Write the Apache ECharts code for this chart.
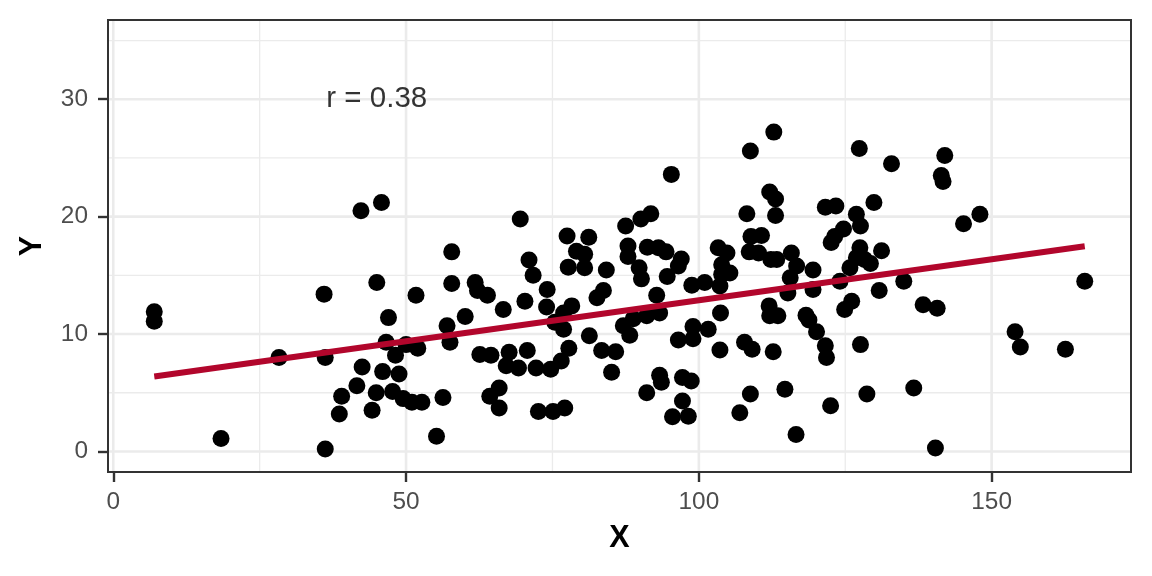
<!DOCTYPE html>
<html><head><meta charset="utf-8">
<script src="https://cdn.jsdelivr.net/npm/echarts@6/dist/echarts.min.js"></script>
<style>html,body{margin:0;padding:0;background:#fff}#c{width:1152px;height:576px}</style>
</head><body><div id="c"></div>
<script>
// ---- data ----
const xValues = [
  7.0, 7.0, 18.4, 28.3, 36.0, 36.2, 36.2, 42.3, 45.8, 45.0, 51.7, 47.0, 46.6, 50.0, 52.0, 48.2, 42.5, 46.0, 48.8, 41.6,
  39.0, 44.9, 47.7, 49.5, 51.0, 52.7, 56.3, 38.6, 44.2, 55.2,
  69.5, 77.5, 57.8, 71.0, 71.7, 57.8, 61.8, 62.2, 63.9, 74.1, 70.3, 66.6, 74.0, 60.1, 57.0, 57.5, 75.4, 76.9, 78.3, 62.6,
  64.5, 67.6, 67.1, 69.2, 70.7, 72.2, 74.7, 76.5, 77.8, 65.9, 64.3, 65.9, 72.6, 75.1, 77.1, 77.7,
  95.3, 91.8, 90.1, 87.5, 81.2, 87.9, 91.2, 93.1, 94.4, 79.1, 80.5, 87.9, 97.0, 96.5, 80.5, 84.2, 89.8, 90.2, 94.6, 98.8,
  83.7, 82.6, 92.8, 76.9, 91.1, 93.3, 88.8, 87.1, 88.2, 81.3, 99.0, 96.5, 99.0, 83.4, 85.8, 85.1, 93.3, 93.6, 97.2, 98.7,
  91.1, 97.2, 95.5, 98.2,
  112.8, 108.8, 112.1, 113.1, 121.6, 108.2, 113.1, 110.7, 108.9, 122.6, 103.3, 104.8, 108.6, 110.2, 112.3, 113.3, 115.8, 116.7, 119.5, 103.9,
  105.3, 103.9, 115.6, 101.0, 103.6, 115.2, 119.5, 112.0, 113.5, 112.1, 103.7, 118.3, 118.8, 120.1, 101.6, 121.6, 121.8, 107.8, 109.1, 103.6,
  112.7, 108.8, 114.7, 107.0, 122.5, 116.6,
  127.4, 132.9, 142.0, 141.4, 141.7, 129.9, 123.4, 126.9, 127.6, 124.7, 123.2, 127.5, 131.2, 126.9, 128.3, 129.3, 125.8, 124.1, 135.0, 130.8,
  126.1, 124.9, 138.3, 140.7, 127.6, 128.7, 136.7, 140.4,
  145.2, 148.0, 165.9, 154.0, 154.9, 162.6
];
const yValues = [
  11.9, 11.1, 1.1, 8.0, 13.4, 8.0, 0.2, 20.5, 21.2, 14.4, 13.3, 11.4, 9.3, 9.1, 8.8, 8.2, 7.2, 6.8, 6.6, 5.6,
  4.7, 5.0, 5.1, 4.5, 4.2, 4.2, 4.6, 3.2, 3.5, 1.3,
  19.8, 18.35, 17.0, 16.3, 15.0, 14.3, 14.4, 13.7, 13.3, 13.8, 12.8, 12.1, 12.3, 11.5, 10.7, 9.3, 11.0, 10.4, 12.4, 8.25,
  8.2, 8.45, 7.3, 7.1, 8.6, 7.1, 7.0, 7.7, 8.8, 5.4, 4.7, 3.7, 3.4, 3.4, 3.7, 15.7,
  23.6, 20.25, 19.8, 19.2, 18.25, 17.5, 17.4, 17.35, 17.0, 17.05, 16.8, 16.6, 16.4, 15.8, 15.65, 15.45, 15.65, 14.7, 14.9, 14.15,
  13.7, 13.1, 13.3, 11.8, 11.55, 11.8, 11.3, 10.7, 9.9, 9.85, 10.65, 9.5, 9.6, 8.6, 8.5, 6.75, 6.5, 5.9, 6.3, 6.0,
  5.0, 4.3, 2.95, 3.0,
  27.2, 25.6, 22.1, 21.5, 20.8, 20.25, 20.1, 18.4, 18.3, 17.8, 17.35, 16.9, 17.0, 16.9, 16.35, 16.35, 16.9, 15.8, 15.45, 15.9,
  15.2, 15.1, 14.8, 14.4, 14.1, 13.5, 13.8, 12.4, 11.55, 11.55, 11.8, 11.6, 11.2, 10.2, 10.4, 9.0, 8.0, 9.3, 8.7, 8.65,
  8.5, 4.9, 5.3, 3.3, 3.9, 1.45,
  25.8, 24.5, 25.2, 23.5, 23.0, 21.2, 20.9, 20.2, 19.2, 18.95, 18.3, 17.35, 17.1, 16.5, 16.35, 16.0, 15.65, 14.5, 14.5, 13.7,
  12.8, 12.1, 12.5, 12.2, 9.1, 4.9, 5.4, 0.3,
  19.4, 20.2, 14.5, 10.2, 8.9, 8.7
];
const fitX = [7.0, 165.9];
const fitY = [6.38, 17.48];
const xTicks = [0, 50, 100, 150];
const xMinorTicks = [25, 75, 125];
const yTicks = [0, 10, 20, 30];
const yMinorTicks = [5, 15, 25, 35];
const xRange = [-0.9, 173.8];
const yRange = [-1.75, 36.75];
const annotX = [45];
const annotY = [30];
const annotText = ['r = 0.38'];

// ---- chart ----
const FONT = "'Liberation Sans', Arial, Helvetica, sans-serif";
const chart = echarts.init(document.getElementById('c'), null, {renderer: 'canvas'});

const gridSeries = [];
function hLine(v, w) {
  gridSeries.push({type: 'line', data: [[xRange[0], v], [xRange[1], v]], symbol: 'none', silent: true,
    lineStyle: {color: '#EBEBEB', width: w}, z: 1, animation: false});
}
function vLine(v, w) {
  gridSeries.push({type: 'line', data: [[v, yRange[0]], [v, yRange[1]]], symbol: 'none', silent: true,
    lineStyle: {color: '#EBEBEB', width: w}, z: 1, animation: false});
}
yMinorTicks.forEach(v => hLine(v, 1.3));
xMinorTicks.forEach(v => vLine(v, 1.3));
yTicks.forEach(v => hLine(v, 2.6));
xTicks.forEach(v => vLine(v, 2.6));

const points = xValues.map((x, i) => [x, yValues[i]]);
const fit = fitX.map((x, i) => [x, fitY[i]]);
const annot = annotX.map((x, i) => ({value: [x, annotY[i]], label: {formatter: annotText[i]}}));

chart.setOption({
  animation: false,
  backgroundColor: '#ffffff',
  grid: {left: 108, right: 21, top: 20, bottom: 104, show: true, borderColor: '#333333', borderWidth: 2,
    backgroundColor: 'transparent', z: 10, containLabel: false},
  xAxis: {
    type: 'value', min: xRange[0], max: xRange[1],
    name: 'X', nameLocation: 'middle', nameGap: 51,
    nameTextStyle: {fontFamily: FONT, fontSize: 30.5, fontWeight: 'bold', color: '#000'},
    axisLine: {show: false, onZero: false},
    axisTick: {show: true, customValues: xTicks, length: 10, lineStyle: {color: '#333333', width: 2.4}},
    axisLabel: {customValues: xTicks, margin: 18, fontFamily: FONT, fontSize: 24.4, color: '#4D4D4D'},
    splitLine: {show: false}
  },
  yAxis: {
    type: 'value', min: yRange[0], max: yRange[1],
    name: 'Y', nameLocation: 'middle', nameGap: 60, nameRotate: 90,
    nameTextStyle: {fontFamily: FONT, fontSize: 30.5, fontWeight: 'bold', color: '#000'},
    axisLine: {show: false, onZero: false},
    axisTick: {show: true, customValues: yTicks, length: 10, lineStyle: {color: '#333333', width: 2.4}},
    axisLabel: {customValues: yTicks, margin: 20, fontFamily: FONT, fontSize: 24.4, color: '#4D4D4D'},
    splitLine: {show: false}
  },
  series: gridSeries.concat([
    {type: 'scatter', data: points, symbol: 'circle', symbolSize: 17,
      itemStyle: {color: '#000000', opacity: 1}, z: 3, silent: true},
    {type: 'line', data: fit, symbol: 'none', lineStyle: {color: '#B2062C', width: 6}, z: 4, silent: true},
    {type: 'scatter', data: annot, symbolSize: 0, z: 5, silent: true,
      label: {show: true, position: 'inside', fontFamily: FONT, fontSize: 29.5, color: '#000000'}}
  ])
});
</script></body></html>
